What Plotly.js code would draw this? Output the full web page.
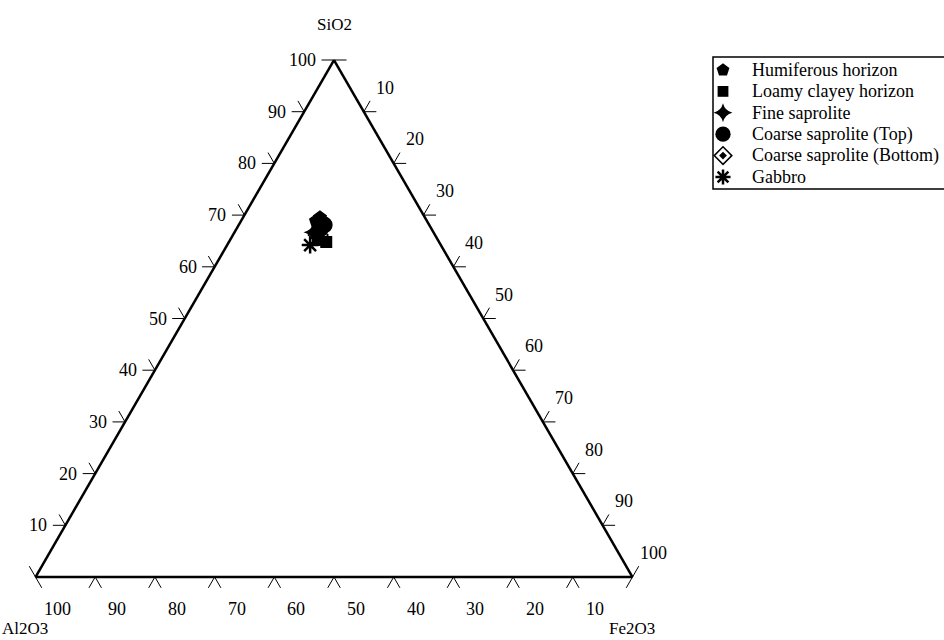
<!DOCTYPE html>
<html>
<head>
<meta charset="utf-8">
<script src="https://cdn.plot.ly/plotly-3.0.1.min.js"></script>
<style>html,body{margin:0;padding:0;background:#fff;}#chart{width:944px;height:640px;}</style>
</head>
<body>
<div id="chart"></div>
<script>
// ---- data (percent) ----
const seriesNames = ['Humiferous horizon', 'Loamy clayey horizon', 'Fine saprolite',
  'Coarse saprolite (Top)', 'Coarse saprolite (Bottom)', 'Gabbro'];

const humiferousSiO2 = [68.9, 69.4];
const humiferousAl2O3 = [18.6, 17.6];
const humiferousFe2O3 = [12.6, 12.9];

const loamySiO2 = [65.2, 64.8];
const loamyAl2O3 = [20.1, 18.9];
const loamyFe2O3 = [14.7, 16.3];

const fineSiO2 = [66.7];
const fineAl2O3 = [20.0];
const fineFe2O3 = [13.3];

const coarseTopSiO2 = [68.1, 67.3];
const coarseTopAl2O3 = [17.6, 18.7];
const coarseTopFe2O3 = [14.3, 14.0];

const coarseBottomSiO2 = [66.2];
const coarseBottomAl2O3 = [19.6];
const coarseBottomFe2O3 = [14.3];

const gabbroSiO2 = [64.2];
const gabbroAl2O3 = [21.9];
const gabbroFe2O3 = [13.9];

const axisTitles = ['SiO2', 'Al2O3', 'Fe2O3'];
const tickVals = [0, 10, 20, 30, 40, 50, 60, 70, 80, 90, 100];
const tickText = ['0', '10', '20', '30', '40', '50', '60', '70', '80', '90', '100'];

// ---- styles / geometry ----
const FONT = "'Liberation Serif', 'Times New Roman', serif";
const W = 944, H = 640;
const triL = 35, triR = 633, triTop = 60, triBot = 577;
const symbols = ['pentagon', 'square', 'star-diamond', 'circle', 'diamond-open', 'asterisk-open'];
const sizes = [15, 12, 15, 17, 15, 14];

// same fitting rule Plotly uses for the ternary triangle inside its domain
let tw = triR - triL, th = triBot - triTop, tx0 = triL, ty0 = triTop;
if (th > tw * Math.sqrt(3) / 2) { const nh = tw * Math.sqrt(3) / 2; ty0 += (th - nh) / 2; th = nh; }
else { const nw = th * 2 / Math.sqrt(3); tx0 += (tw - nw) / 2; tw = nw; }
const apex = [tx0 + tw / 2, ty0], BL = [tx0, ty0 + th], BR = [tx0 + tw, ty0 + th];
function pt(a, b, c) { // fractions -> pixel position of the ternary frame
  return [a * apex[0] + b * BL[0] + c * BR[0], a * apex[1] + b * BL[1] + c * BR[1]];
}

function markerFor(i, scale) {
  const m = {symbol: symbols[i], size: sizes[i] * (scale || 1), color: '#000', line: {color: '#000', width: 0}};
  if (i === 4) m.line.width = 1.5;
  if (i === 5) m.line.width = 2.5;
  return m;
}

const seriesData = [
  [humiferousSiO2, humiferousAl2O3, humiferousFe2O3],
  [loamySiO2, loamyAl2O3, loamyFe2O3],
  [fineSiO2, fineAl2O3, fineFe2O3],
  [coarseTopSiO2, coarseTopAl2O3, coarseTopFe2O3],
  [coarseBottomSiO2, coarseBottomAl2O3, coarseBottomFe2O3],
  [gabbroSiO2, gabbroAl2O3, gabbroFe2O3]
];

const traces = [];
seriesData.forEach((d, i) => {
  traces.push({
    type: 'scatterternary', mode: 'markers', name: seriesNames[i],
    a: d[0], b: d[1], c: d[2], marker: markerFor(i), cliponaxis: false, showlegend: false
  });
  if (i === 4) {
    traces.push({
      type: 'scatterternary', mode: 'markers', name: seriesNames[i],
      a: d[0], b: d[1], c: d[2], marker: {symbol: 'diamond', size: 7, color: '#000'},
      cliponaxis: false, showlegend: false, hoverinfo: 'skip'
    });
  }
});

// ---- chevron tick marks + tick labels ----
const L = 12.5, S60 = Math.sqrt(3) / 2;
const dirLeft = [-1, 0], dirRight = [1, 0];
const dirUpLeft = [-0.5, -S60], dirDownRight = [0.5, S60];
const dirUpRight = [0.5, -S60], dirDownLeft = [-0.5, S60];
let leftPath = '', bottomPath = '', rightPath = '';
function seg(p, d) { return 'M' + p[0].toFixed(2) + ',' + p[1].toFixed(2) + 'L' + (p[0] + d[0] * L).toFixed(2) + ',' + (p[1] + d[1] * L).toFixed(2); }
const annotations = [];
const tickFont = {family: FONT, size: 18, color: '#000'};
tickVals.forEach((v, k) => {
  const t = v / 100;
  // left edge: SiO2 (a = t)
  const pl = pt(t, 1 - t, 0);
  if (t > 0) leftPath += seg(pl, dirLeft);
  if (t < 1) leftPath += seg(pl, dirUpLeft);
  // bottom edge: Al2O3 (b = t)
  const pb = pt(0, t, 1 - t);
  if (t > 0) bottomPath += seg(pb, dirDownRight);
  if (t < 1) bottomPath += seg(pb, dirDownLeft);
  // right edge: Fe2O3 (c = t)
  const pr = pt(1 - t, 0, t);
  if (t < 1) rightPath += seg(pr, dirRight);
  if (t > 0) rightPath += seg(pr, dirUpRight);
  if (v > 0) {
    annotations.push({xref: 'x', yref: 'y', x: pl[0] - 16, y: pl[1], text: tickText[k], showarrow: false,
      xanchor: 'right', yanchor: 'middle', font: tickFont});
    annotations.push({xref: 'x', yref: 'y', x: pb[0] + 22, y: pb[1] + 32, text: tickText[k], showarrow: false,
      xanchor: 'center', yanchor: 'middle', font: tickFont});
    annotations.push({xref: 'x', yref: 'y', x: pr[0] + 21, y: pr[1] - 24, text: tickText[k], showarrow: false,
      xanchor: 'center', yanchor: 'middle', font: tickFont});
  }
});
const tickLine = {color: '#000', width: 1};
const shapes = [
  {type: 'path', xref: 'x', yref: 'y', path: leftPath, line: tickLine},
  {type: 'path', xref: 'x', yref: 'y', path: bottomPath, line: tickLine},
  {type: 'path', xref: 'x', yref: 'y', path: rightPath, line: tickLine}
];

// axis titles at the corners
const titleFont = {family: FONT, size: 17, color: '#000'};
annotations.push({xref: 'x', yref: 'y', x: apex[0], y: apex[1] - 36, text: axisTitles[0], showarrow: false,
  xanchor: 'center', yanchor: 'middle', font: titleFont});
annotations.push({xref: 'x', yref: 'y', x: 0, y: BL[1] + 51, text: axisTitles[1], showarrow: false,
  xanchor: 'left', yanchor: 'middle', font: titleFont});
annotations.push({xref: 'x', yref: 'y', x: BR[0], y: BR[1] + 51, text: axisTitles[2], showarrow: false,
  xanchor: 'center', yanchor: 'middle', font: titleFont});

// ---- hand-built legend on a hidden pixel-unit cartesian axis ----
const legX = 723, legTextX = 750, legY0 = 70, legGap = 21.4;
const legYs = seriesNames.map((_, i) => legY0 + i * legGap);
seriesNames.forEach((name, i) => {
  traces.push({
    type: 'scatter', mode: 'markers', x: [legX], y: [legYs[i]], xaxis: 'x', yaxis: 'y',
    marker: markerFor(i, 0.9), hoverinfo: 'skip', showlegend: false, cliponaxis: false
  });
  if (i === 4) {
    traces.push({
      type: 'scatter', mode: 'markers', x: [legX], y: [legYs[i]], xaxis: 'x', yaxis: 'y',
      marker: {symbol: 'diamond', size: 6, color: '#000'},
      hoverinfo: 'skip', showlegend: false, cliponaxis: false
    });
  }
  annotations.push({
    xref: 'x', yref: 'y', x: legTextX, y: legYs[i], text: name, showarrow: false,
    xanchor: 'left', yanchor: 'middle', font: {family: FONT, size: 18, color: '#000'}
  });
});
shapes.push({
  type: 'rect', xref: 'x', yref: 'y', x0: 713, x1: 960, y0: 57, y1: 189,
  line: {color: '#000', width: 1.5}, fillcolor: 'rgba(0,0,0,0)', layer: 'below'
});

function ternAxis() {
  return {
    title: {text: ''}, tickmode: 'array', tickvals: tickVals, ticks: '', showticklabels: false,
    showline: true, linewidth: 2.5, linecolor: '#000', showgrid: false, min: 0
  };
}

const layout = {
  width: W, height: H,
  margin: {l: 0, r: 0, t: 0, b: 0},
  paper_bgcolor: '#fff', plot_bgcolor: 'rgba(0,0,0,0)',
  showlegend: false,
  font: {family: FONT, size: 18, color: '#000'},
  ternary: {
    sum: 100,
    domain: {x: [triL / W, triR / W], y: [(H - triBot) / H, (H - triTop) / H]},
    bgcolor: '#fff',
    aaxis: ternAxis(), baxis: ternAxis(), caxis: ternAxis()
  },
  xaxis: {domain: [0, 1], range: [0, W], visible: false, fixedrange: true},
  yaxis: {domain: [0, 1], range: [H, 0], visible: false, fixedrange: true},
  shapes: shapes,
  annotations: annotations
};

Plotly.newPlot('chart', traces, layout, {displayModeBar: false, staticPlot: true});
</script>
</body>
</html>
